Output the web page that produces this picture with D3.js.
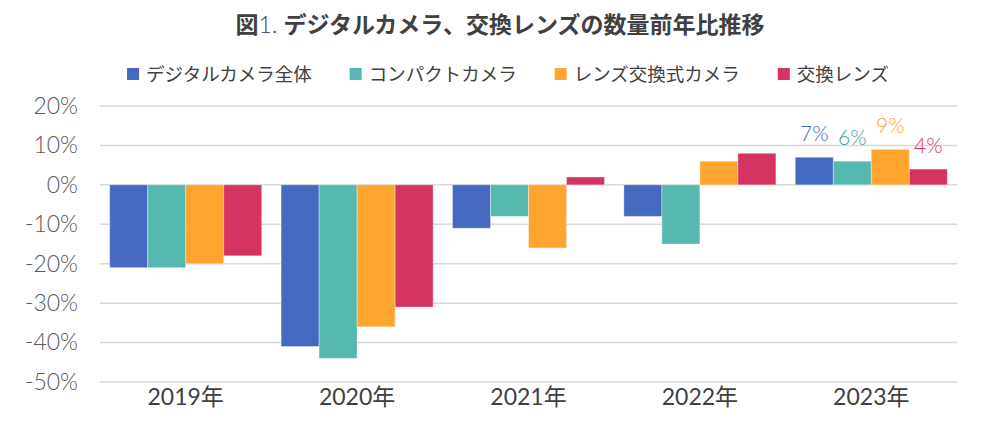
<!DOCTYPE html>
<html>
<head>
<meta charset="utf-8">
<script src="https://cdn.jsdelivr.net/npm/d3@7"></script>
<style>
  body { margin: 0; background: #fff; }
  svg { display: block; }
</style>
</head>
<body>
<div id="chart"></div>
<script>
// data
const years = ["2019年", "2020年", "2021年", "2022年", "2023年"];
const seriesNames = ["デジタルカメラ全体", "コンパクトカメラ", "レンズ交換式カメラ", "交換レンズ"];
const allCameras = [-21, -41, -11, -8, 7];
const compactCameras = [-21, -44, -8, -15, 6];
const interchangeableCameras = [-20, -36, -16, 6, 9];
const lenses = [-18, -31, 2, 8, 4];
const yTicks = [20, 10, 0, -10, -20, -30, -40, -50];

const seriesValues = [allCameras, compactCameras, interchangeableCameras, lenses];
const colors = ["#4469BF", "#56B9B0", "#FFA42F", "#D53461"];
const labelColors = ["#4469BF", "#4A9F97", "#FFA42F", "#D53461"];

const svgObj = { width: 1000, height: 441 };
const margin = { left: 100, right: 43, top: 106, bottom: 59 };

const svg = d3
  .select("#chart")
  .append("svg")
  .attr("width", svgObj.width)
  .attr("height", svgObj.height);

const x = d3
  .scaleBand()
  .domain(years)
  .range([margin.left, svgObj.width - margin.right])
  .paddingInner(0.113)
  .paddingOuter(0.0565);

const xSeries = d3
  .scaleBand()
  .domain(seriesNames)
  .range([0, x.bandwidth()]);

const y = d3
  .scaleLinear()
  .domain([-50, 20])
  .range([svgObj.height - margin.bottom, margin.top]);

// gridlines
svg
  .append("g")
  .selectAll("line")
  .data(yTicks)
  .join("line")
  .attr("x1", margin.left)
  .attr("x2", svgObj.width - margin.right)
  .attr("y1", (d) => y(d))
  .attr("y2", (d) => y(d))
  .attr("stroke", "#D9D9D9")
  .attr("stroke-width", 1.5);

// y axis labels
const yAxis = d3
  .axisLeft(y)
  .tickValues(yTicks)
  .tickFormat((d) => d + "%")
  .tickSize(0)
  .tickPadding(0);

svg
  .append("g")
  .attr("transform", `translate(${margin.left - 22},0)`)
  .call(yAxis)
  .call((g) => g.select(".domain").remove())
  .selectAll("text")
  .attr("font-family", "Lato, 'Noto Sans', sans-serif")
  .attr("font-weight", 300)
  .attr("font-size", 23)
  .attr("fill", "#595959");

// x axis labels
const xAxis = d3.axisBottom(x).tickSize(0).tickPadding(0);
svg
  .append("g")
  .attr("transform", `translate(0,${svgObj.height - 36})`)
  .call(xAxis)
  .call((g) => g.select(".domain").remove())
  .selectAll("text")
  .attr("dy", "0")
  .attr("font-family", "Lato, 'Noto Sans CJK JP', sans-serif")
  .attr("font-size", 23)
  .attr("fill", "#404040");

// bars
seriesNames.forEach((name, s) => {
  const group = svg.append("g");
  group
    .selectAll("rect")
    .data(seriesValues[s])
    .join("rect")
    .attr("x", (d, i) => x(years[i]) + xSeries(name))
    .attr("y", (d) => y(Math.max(0, d)))
    .attr("width", xSeries.bandwidth())
    .attr("height", (d) => Math.abs(y(d) - y(0)))
    .attr("fill", colors[s])
    .attr("stroke", "rgba(255,255,255,0.35)")
    .attr("stroke-width", 1);

  // data label for last year only
  const last = seriesValues[s].length - 1;
  const v = seriesValues[s][last];
  svg
    .append("text")
    .attr("x", x(years[last]) + xSeries(name) + xSeries.bandwidth() / 2)
    .attr("y", y(v) - 16)
    .attr("text-anchor", "middle")
    .attr("font-family", "Lato, 'Noto Sans', sans-serif")
    .attr("font-weight", 300)
    .attr("font-size", 21)
    .attr("fill", labelColors[s])
    .text(v + "%");
});

// title
const title = svg
  .append("text")
  .attr("x", svgObj.width / 2)
  .attr("y", 33)
  .attr("text-anchor", "middle")
  .attr("font-family", "'Noto Sans CJK JP', sans-serif")
  .attr("font-weight", 700)
  .attr("font-size", 23)
  .attr("fill", "#404040");
title.append("tspan").text("図");
title
  .append("tspan")
  .attr("font-weight", 300)
  .attr("font-family", "Lato, sans-serif")
  .text("1. ");
title.append("tspan").text("デジタルカメラ、交換レンズの数量前年比推移");

// legend
const legend = svg.append("g");
const legendItems = legend
  .selectAll("g")
  .data(seriesNames)
  .join("g");

legendItems
  .append("rect")
  .attr("width", 12)
  .attr("height", 12)
  .attr("y", 68)
  .attr("fill", (d, i) => colors[i]);

legendItems
  .append("text")
  .attr("x", 19)
  .attr("y", 81)
  .attr("font-family", "'Noto Sans CJK JP', sans-serif")
  .attr("font-size", 18.5)
  .attr("fill", "#404040")
  .text((d) => d);

let cursor = 0;
legendItems.each(function () {
  const w = d3.select(this).select("text").node().getComputedTextLength();
  d3.select(this).attr("transform", `translate(${cursor},0)`);
  cursor += 19 + w + 38;
});
const legendWidth = cursor - 38;
legend.attr("transform", `translate(${(svgObj.width - legendWidth) / 2 + 8},0)`);
</script>
</body>
</html>
